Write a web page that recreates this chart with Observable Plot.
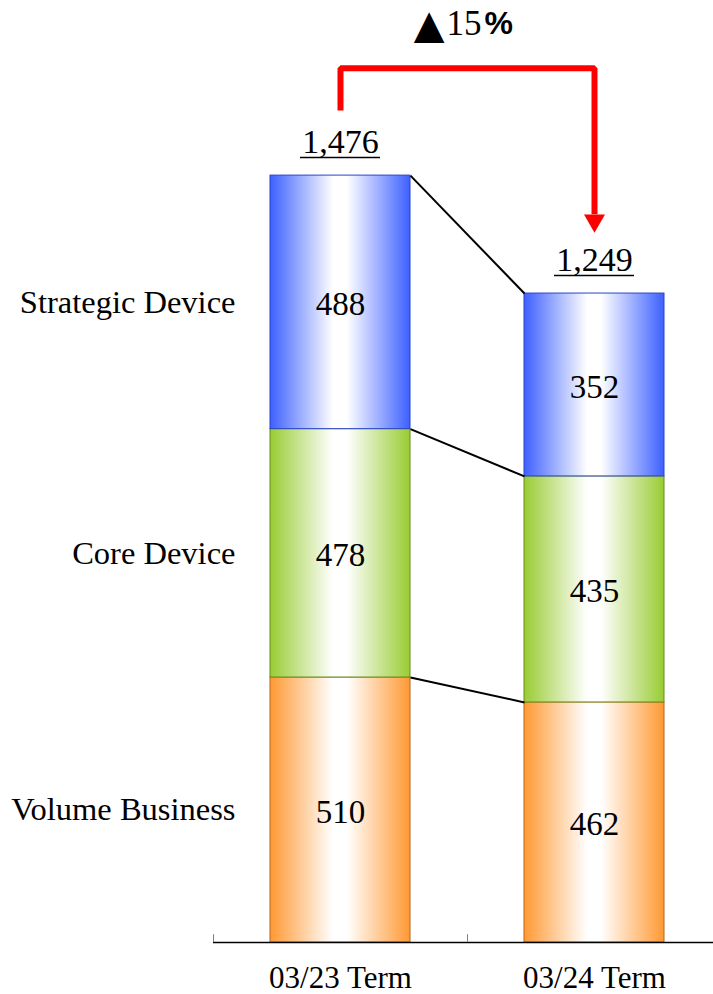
<!DOCTYPE html>
<html><head><meta charset="utf-8">
<script src="https://cdn.jsdelivr.net/npm/d3@7"></script>
<script src="https://cdn.jsdelivr.net/npm/@observablehq/plot@0.6"></script>
<style>body{margin:0;background:#fff}</style>
</head><body><div id="chart"></div>
<script>
// ---- data ----
const terms = ["03/23 Term", "03/24 Term"];
const segments = ["Volume Business", "Core Device", "Strategic Device"];
const volume = [510, 462];
const core = [478, 435];
const strategic = [488, 352];
const totals = [1476, 1249];
const changeMark = "▲";
const changeValue = "15";
const changeUnit = "%";

// ---- styles ----
const baseColors = {"Volume Business": "#ff9933", "Core Device": "#99cc33", "Strategic Device": "#3d60ff"};
const edgeColors = {"Volume Business": "#b4691c", "Core Device": "#6a8c1c", "Strategic Device": "#2a44c4"};
const gradId = {"Volume Business": "gOrange", "Core Device": "gGreen", "Strategic Device": "gBlue"};

const seriesValues = {"Volume Business": volume, "Core Device": core, "Strategic Device": strategic};
const rows = [];
terms.forEach((t, i) => segments.forEach(s => rows.push({term: t, segment: s, value: seriesValues[s][i]})));
const totalRows = terms.map((t, i) => ({term: t, total: totals[i]}));

// segment tops for connector lines
const connectors = segments.map((s, k) => ({
  segment: s,
  y1: d3.sum(segments.slice(0, k + 1), q => seriesValues[q][0]),
  y2: d3.sum(segments.slice(0, k + 1), q => seriesValues[q][1])
}));

const step = 254, inset = 57, half = step / 2 - inset;
const bracketTop = d3.max(totals) * 1.14;
const bracket = [
  {x: terms[0], y: totals[0] * 1.085},
  {x: terms[0], y: bracketTop},
  {x: terms[1], y: bracketTop},
  {x: terms[1], y: totals[1] * 1.122}
];

const fmt = d3.format(",");

const svg = Plot.plot({
  width: 713, height: 994,
  marginLeft: 213, marginRight: 0, marginTop: 0, marginBottom: 52,
  x: {domain: terms, range: [213, 213 + 2 * step], padding: 0, axis: null},
  y: {domain: [0, 1813], axis: null},
  color: {type: "identity"},
  style: {fontFamily: "'Liberation Serif', 'Times New Roman', serif", fontSize: "32px", color: "black", background: "white", overflow: "visible"},
  marks: [
    Plot.barY(rows, Plot.stackY({
      x: "term", y: "value",
      fill: d => `url(#${gradId[d.segment]})`,
      stroke: d => edgeColors[d.segment], strokeWidth: 1,
      insetLeft: inset, insetRight: inset
    })),
    Plot.link(connectors, {
      x1: () => terms[0], x2: () => terms[1], y1: "y1", y2: "y2",
      stroke: "black", strokeWidth: 2,
      render(index, scales, values, dimensions, context, next) {
        const x1 = Array.from(values.x1, v => v + half);
        const x2 = Array.from(values.x2, v => v - half);
        return next(index, scales, {...values, x1, x2}, dimensions, context);
      }
    }),
    Plot.ruleY([0], {stroke: "black", strokeWidth: 1.5}),
    Plot.ruleX(terms, {x: d => d, dx: -step / 2, y1: 0, y2: 15, stroke: "#808080", strokeWidth: 1}),
    Plot.text(rows, Plot.stackY({x: "term", y: "value", text: d => String(d.value), fontSize: 33, dy: 2, fill: "black"})),
    Plot.text(rows.filter(d => d.term === terms[0]), Plot.stackY({
      x: "term", y: "value", text: "segment", textAnchor: "end", dx: -105, fontSize: 32.5, fill: "black"
    })),
    Plot.text(totalRows, {x: "term", y: "total", text: d => fmt(d.total), dy: -33, fontSize: 34, fill: "black"}),
    Plot.tickY(totalRows, {x: "term", y: "total", dy: -18, insetLeft: 87, insetRight: 87, stroke: "black", strokeWidth: 1.5}),
    Plot.text(terms, {x: d => d, frameAnchor: "bottom", text: d => d, dy: 36, lineAnchor: "middle", fontSize: 31, fill: "black"}),
    Plot.line(bracket, {x: "x", y: "y", stroke: "red", strokeWidth: 6, strokeLinejoin: "miter", strokeLinecap: "butt"}),
    Plot.dot([terms[1]], {x: d => d, y: () => totals[1] * 1.1125, symbol: "triangle", rotate: 180, r: 7.8, fill: "red", stroke: "none"}),
    Plot.text([changeMark], {frameAnchor: "top", text: d => d, textAnchor: "end", dx: -19, dy: 37, lineAnchor: "bottom", fontSize: 40, fontFamily: "'DejaVu Sans', sans-serif", fill: "black"}),
    Plot.text([changeValue], {frameAnchor: "top", text: d => d, textAnchor: "start", dx: -17, dy: 23, lineAnchor: "middle", fontSize: 35, fill: "black"}),
    Plot.text([changeUnit], {frameAnchor: "top", text: d => d, textAnchor: "start", dx: 21, dy: 23, lineAnchor: "middle", fontSize: 32, fontWeight: "bold", fontFamily: "'Liberation Sans', Arial, sans-serif", fill: "black"})
  ]
});

// gradient definitions
const defs = d3.select(svg).insert("defs", ":first-child");
for (const s of segments) {
  const g = defs.append("linearGradient").attr("id", gradId[s]).attr("x1", 0).attr("x2", 1).attr("y1", 0).attr("y2", 0);
  [[0, baseColors[s]], [0.45, "#ffffff"], [0.55, "#ffffff"], [1, baseColors[s]]].forEach(([o, c]) =>
    g.append("stop").attr("offset", o).attr("stop-color", c));
}

document.getElementById("chart").appendChild(svg);
</script>
</body></html>
